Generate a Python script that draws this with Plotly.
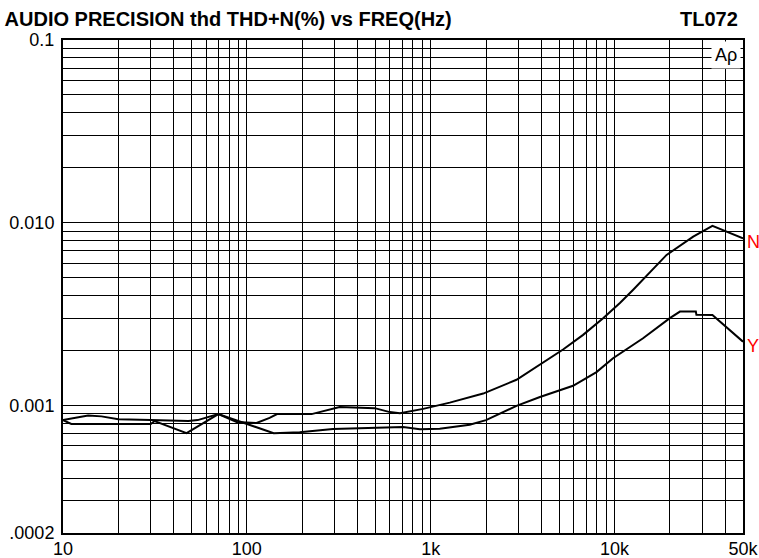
import plotly.graph_objects as go

# THD+N (%) vs frequency (Hz)
freq_n = [10, 11.6, 13.7, 16.2, 20, 30, 48, 54, 70, 88, 113, 133, 146, 225, 320, 496,
          600, 680, 910, 1270, 1930, 2930, 3930, 5250, 6750, 8670, 10700, 12600,
          19200, 21800, 26800, 34100, 50000]
thd_n = [0.00083, 0.00085, 0.00088, 0.00087, 0.00084, 0.00083, 0.00082, 0.00083, 0.000895,
         0.00081, 0.00080, 0.000854, 0.000895, 0.000895, 0.00098, 0.000965,
         0.000918, 0.000905, 0.000956, 0.001035, 0.00116, 0.00138, 0.00167, 0.00202,
         0.00243, 0.00300, 0.00363, 0.00428, 0.00666, 0.00724, 0.00838, 0.0096, 0.0082]

freq_y = [10, 11.1, 30, 31.5, 47, 70, 140, 194, 294, 486, 708, 873, 1120, 1630, 2000,
          2930, 3930, 5950, 7980, 9820, 14300, 20000, 22700, 27700, 27900, 34100, 50000]
thd_y = [0.00083, 0.00079, 0.00079, 0.00082, 0.000704, 0.000895, 0.000704, 0.000713,
         0.000743, 0.000749, 0.000760, 0.000740, 0.000745, 0.000782, 0.00083, 0.000994,
         0.00111, 0.00128, 0.00152, 0.00181, 0.00233, 0.00300, 0.00326, 0.00326,
         0.00313, 0.00312, 0.00223]

# grid lines every 1..9 per decade, labels only on a few
x_grid = [m * 10 ** e for e in range(1, 5) for m in range(1, 10) if m * 10 ** e <= 50000]
x_labels = {10: "10", 100: "100", 1000: "1k", 10000: "10k", 50000: "50k"}
y_grid = [round(m * 10.0 ** e, 6) for e in range(-4, -1) for m in range(1, 10)
          if m * 10.0 ** e >= 0.00019] + [0.1]
y_labels = {0.0002: ".0002", 0.001: "0.001", 0.01: "0.010", 0.1: "0.1"}

FONT = "Liberation Sans, Arial, sans-serif"

fig = go.Figure()
fig.add_trace(go.Scatter(x=freq_n, y=thd_n, mode="lines",
                         line=dict(color="black", width=2)))
fig.add_trace(go.Scatter(x=freq_y, y=thd_y, mode="lines",
                         line=dict(color="black", width=2)))

fig.update_xaxes(type="log", range=[1, 4.69897], automargin=False,
                 tickvals=x_grid, ticktext=[x_labels.get(v, "") for v in x_grid],
                 showgrid=True, gridcolor="black", gridwidth=1,
                 showline=True, mirror=True, linecolor="black", linewidth=2,
                 zeroline=False, ticks="", ticklabelstandoff=-2,
                 tickfont=dict(family=FONT, size=18, color="black"))
fig.update_yaxes(type="log", range=[-3.69897, -1], automargin=False,
                 tickvals=y_grid, ticktext=[y_labels.get(v, "") for v in y_grid],
                 showgrid=True, gridcolor="black", gridwidth=1,
                 showline=True, mirror=True, linecolor="black", linewidth=2,
                 zeroline=False, ticks="", ticklabelstandoff=3,
                 tickfont=dict(family=FONT, size=18, color="black"))

# curve end labels
fig.add_annotation(x=4.69897, y=-2.085, xref="x", yref="y", text="N", showarrow=False,
                   xanchor="left", xshift=2, yshift=-4,
                   font=dict(family=FONT, size=18, color="red"))
fig.add_annotation(x=4.69897, y=-2.652, xref="x", yref="y", text="Y", showarrow=False,
                   xanchor="left", xshift=2, yshift=-4,
                   font=dict(family=FONT, size=18, color="red"))

fig.add_annotation(x=1, y=1, xref="paper", yref="paper", text="Aρ", showarrow=False,
                   xanchor="right", yanchor="top", xshift=-2, yshift=-1,
                   bgcolor="white", borderpad=3,
                   font=dict(family=FONT, size=18, color="black"))
fig.add_annotation(x=1, y=1.0426, xref="paper", yref="paper", text="<b>TL072</b>",
                   showarrow=False, xanchor="right", yanchor="middle", xshift=-3,
                   font=dict(family=FONT, size=20, color="black"))

fig.update_layout(
    title=dict(text="<b>AUDIO PRECISION thd THD+N(%) vs FREQ(Hz)</b>",
               x=0.006, xanchor="left", xref="container",
               y=1 - 19 / 558, yanchor="middle", yref="container",
               font=dict(family=FONT, size=20, color="black")),
    width=759, height=558,
    margin=dict(l=63, r=16, t=40, b=25),
    plot_bgcolor="white", paper_bgcolor="white",
    showlegend=False)

# the default page has an 8px body margin; drop it so the figure fills the window
fig.write_html("out.html", config={"displayModeBar": False},
               post_script="document.body.style.margin = '0';")
